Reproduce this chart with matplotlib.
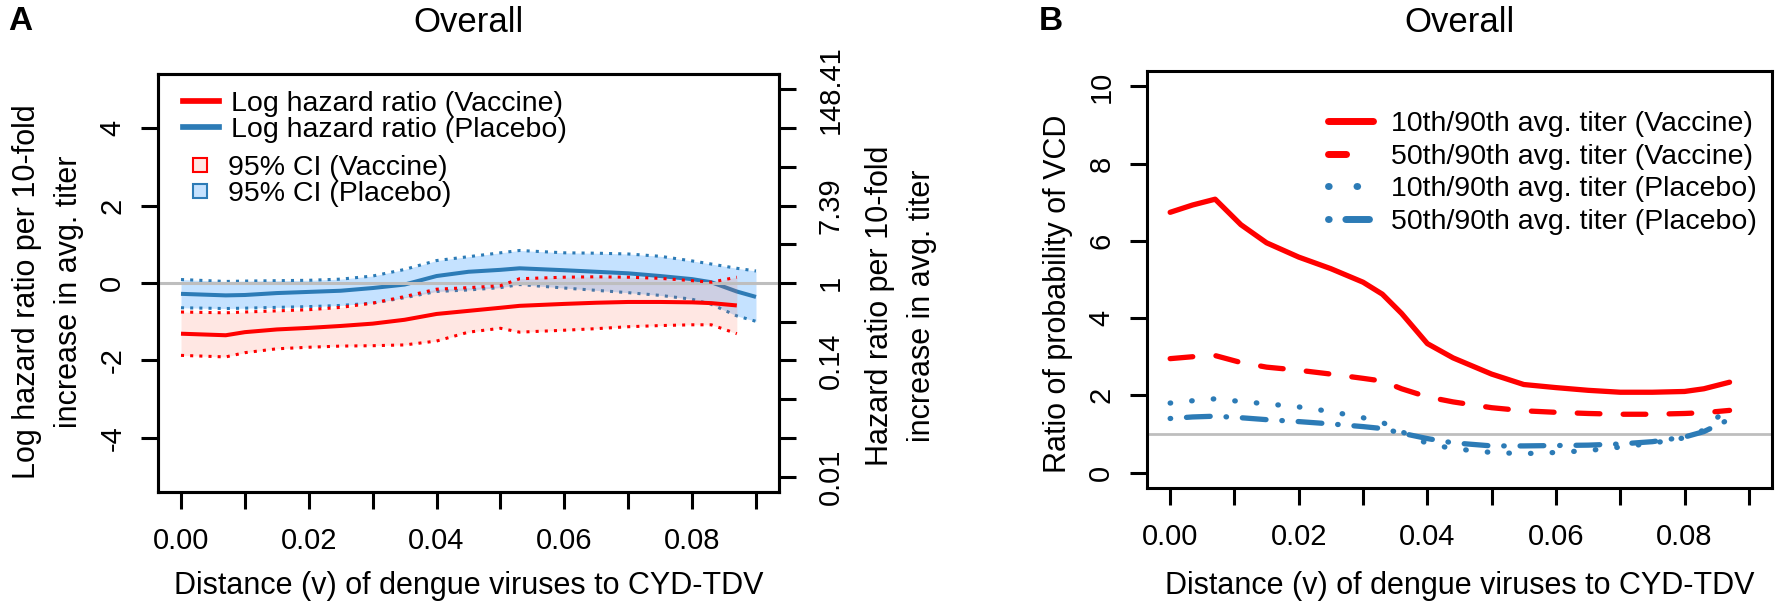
import matplotlib
matplotlib.use("Agg")
import matplotlib.pyplot as plt
from matplotlib.lines import Line2D

plt.rcParams['font.family'] = ['Liberation Sans', 'DejaVu Sans']

# ---------------- data: panel A ----------------
xa_plac = [0.000, 0.007, 0.010, 0.015, 0.020, 0.025, 0.030, 0.035, 0.040, 0.045,
           0.050, 0.053, 0.060, 0.065, 0.070, 0.075, 0.080, 0.083, 0.087, 0.090]
plac_lhr = [-0.28, -0.32, -0.31, -0.26, -0.23, -0.20, -0.13, -0.04, 0.18, 0.29,
            0.34, 0.38, 0.33, 0.29, 0.25, 0.18, 0.10, 0.02, -0.22, -0.36]
plac_hi = [0.09, 0.04, 0.05, 0.06, 0.07, 0.10, 0.18, 0.35, 0.58, 0.68,
           0.78, 0.84, 0.78, 0.77, 0.75, 0.69, 0.57, 0.49, 0.38, 0.31]
plac_lo = [-0.64, -0.66, -0.65, -0.63, -0.61, -0.58, -0.52, -0.38, -0.22, -0.18,
           -0.12, -0.04, -0.13, -0.19, -0.25, -0.32, -0.42, -0.55, -0.85, -0.99]

xa_vacc = [0.000, 0.007, 0.010, 0.015, 0.020, 0.025, 0.030, 0.035, 0.040, 0.045,
           0.050, 0.053, 0.060, 0.065, 0.070, 0.075, 0.080, 0.083, 0.087]
vacc_lhr = [-1.31, -1.35, -1.27, -1.20, -1.16, -1.11, -1.05, -0.95, -0.80, -0.72,
            -0.64, -0.59, -0.54, -0.51, -0.49, -0.49, -0.50, -0.52, -0.58]
vacc_hi = [-0.75, -0.77, -0.75, -0.72, -0.69, -0.63, -0.52, -0.35, -0.16, -0.12,
           -0.07, 0.11, 0.15, 0.16, 0.15, 0.12, 0.06, 0.02, 0.15]
vacc_lo = [-1.87, -1.91, -1.80, -1.70, -1.66, -1.63, -1.62, -1.60, -1.50, -1.27,
           -1.17, -1.27, -1.22, -1.18, -1.13, -1.10, -1.08, -1.08, -1.31]

xticks = [0.00, 0.01, 0.02, 0.03, 0.04, 0.05, 0.06, 0.07, 0.08, 0.09]
xticklabels = ['0.00', '', '0.02', '', '0.04', '', '0.06', '', '0.08', '']
ya_ticks = [-4, -2, 0, 2, 4]
ya_ticklabels = ['-4', '-2', '0', '2', '4']
hr_ticks = [-5, -4, -3, -2, -1, 0, 1, 2, 3, 4, 5]
hr_ticklabels = ['0.01', '', '', '0.14', '', '1', '', '7.39', '', '', '148.41']

# ---------------- data: panel B ----------------
xb = [0.000, 0.0035, 0.007, 0.011, 0.015, 0.020, 0.025, 0.030, 0.033, 0.036, 0.040,
      0.044, 0.050, 0.055, 0.060, 0.065, 0.070, 0.075, 0.080, 0.083, 0.087]
r10_vacc = [6.74, 6.93, 7.08, 6.42, 5.95, 5.58, 5.28, 4.93, 4.62, 4.12, 3.34,
            2.97, 2.55, 2.28, 2.20, 2.13, 2.08, 2.08, 2.10, 2.17, 2.34]
r50_vacc = [2.95, 3.00, 3.03, 2.85, 2.73, 2.65, 2.55, 2.44, 2.37, 2.17, 1.96,
            1.83, 1.68, 1.60, 1.56, 1.53, 1.51, 1.51, 1.53, 1.55, 1.61]
r10_plac = [1.80, 1.86, 1.91, 1.84, 1.78, 1.70, 1.58, 1.42, 1.30, 1.06, 0.75,
            0.62, 0.52, 0.49, 0.52, 0.57, 0.66, 0.76, 0.90, 1.10, 1.72]
r50_plac = [1.40, 1.44, 1.46, 1.42, 1.37, 1.32, 1.26, 1.19, 1.14, 1.02, 0.88,
            0.77, 0.69, 0.69, 0.70, 0.71, 0.74, 0.80, 0.92, 1.06, 1.38]
yb_ticks = [0, 2, 4, 6, 8, 10]
yb_ticklabels = ['0', '2', '4', '6', '8', '10']

# ---------------- style ----------------
RED = '#FF0000'
BLUE = '#2C7BB6'
GRAY = '#BEBEBE'
RED_FILL = (1.0, 0.39, 0.28, 0.15)
BLUE_FILL = (0.12, 0.56, 1.0, 0.26)
FS_TICK = 21
FS_LAB = 22
FS_LEG = 20.5
FS_TITLE = 25
W, H = 1779, 605

fig = plt.figure(figsize=(W / 100, H / 100), dpi=100)


def box(l, t, r, b):
    return [l / W, 1 - b / H, (r - l) / W, (b - t) / H]


axA = fig.add_axes(box(158, 74, 779, 492))
axB = fig.add_axes(box(1147, 71, 1772, 488))


def style_axis(ax, ypad):
    for s in ax.spines.values():
        s.set_linewidth(2.2)
    ax.tick_params(axis='both', direction='out', length=12, width=2.2, labelsize=FS_TICK)
    ax.tick_params(axis='x', pad=13.0)
    ax.tick_params(axis='y', pad=ypad)


# ---------------- Panel A ----------------
dot = (0, (1, 2))
axA.fill_between(xa_plac, plac_lo, plac_hi, color=BLUE_FILL, lw=0, zorder=1)
axA.plot(xa_plac, plac_hi, color=BLUE, lw=2.2, ls=dot, zorder=2)
axA.plot(xa_plac, plac_lo, color=BLUE, lw=2.2, ls=dot, zorder=2)
axA.plot(xa_plac, plac_lhr, color=BLUE, lw=2.9, zorder=2.5, solid_joinstyle='round',
         solid_capstyle='butt')
axA.fill_between(xa_vacc, vacc_lo, vacc_hi, color=RED_FILL, lw=0, zorder=3)
axA.axhline(0, color=GRAY, lw=2.2, zorder=3.5)
axA.plot(xa_vacc, vacc_hi, color=RED, lw=2.2, ls=dot, zorder=4)
axA.plot(xa_vacc, vacc_lo, color=RED, lw=2.2, ls=dot, zorder=4)
axA.plot(xa_vacc, vacc_lhr, color=RED, lw=2.9, zorder=4.5, solid_joinstyle='round',
         solid_capstyle='butt')

axA.set_xlim(-0.0036, 0.0936)
axA.set_ylim(-5.4, 5.4)
axA.set_xticks(xticks)
axA.set_xticklabels(xticklabels)
axA.set_yticks(ya_ticks)
axA.set_yticklabels(ya_ticklabels, rotation=90, va='center')
style_axis(axA, 10.8)

axA.set_title('Overall', fontsize=FS_TITLE, y=1 + (74 - 22.5) / 418, va='center', pad=0)
axA.set_xlabel('Distance (v) of dengue viruses to CYD-TDV', fontsize=FS_LAB)
axA.xaxis.set_label_coords(0.5, -(586 - 492) / 418)
axA.xaxis.label.set_va('center')
axA.set_ylabel('Log hazard ratio per 10-fold\nincrease in avg. titer', fontsize=FS_LAB,
               linespacing=1.5)
axA.yaxis.set_label_coords((48 - 158) / 621, 1 - (291.5 - 74) / 418)
axA.yaxis.label.set_va('center')

axA2 = axA.twinx()
axA2.set_ylim(-5.4, 5.4)
axA2.set_yticks(hr_ticks)
axA2.set_yticklabels(hr_ticklabels, rotation=90, va='center')
style_axis(axA2, 15)
axA2.set_ylabel('Hazard ratio per 10-fold\nincrease in avg. titer', fontsize=FS_LAB,
                linespacing=1.5, rotation=90)
axA2.yaxis.set_label_coords((901 - 158) / 621, 1 - (306 - 74) / 418)
axA2.yaxis.label.set_va('center')

leg_h1 = [Line2D([], [], color=RED, lw=4.1), Line2D([], [], color=BLUE, lw=4.1)]
leg1 = axA.legend(leg_h1, ['Log hazard ratio (Vaccine)', 'Log hazard ratio (Placebo)'],
                  loc='upper left', bbox_to_anchor=((182.6 - 158) / 621, 1 - (91.2 - 74) / 418),
                  borderaxespad=0, borderpad=0, frameon=False, handlelength=1.29,
                  handletextpad=0.41, labelspacing=0, fontsize=FS_LEG)
axA.add_artist(leg1)
leg_h2 = [Line2D([], [], ls='none', marker='s', ms=9.4, mfc=RED_FILL, mec=RED, mew=1.5),
          Line2D([], [], ls='none', marker='s', ms=9.4, mfc=BLUE_FILL, mec=BLUE, mew=1.5)]
axA.legend(leg_h2, ['95% CI (Vaccine)', '95% CI (Placebo)'],
           loc='upper left', bbox_to_anchor=((186 - 158) / 621, 1 - (155 - 74) / 418),
           borderaxespad=0, borderpad=0, frameon=False, handlelength=0.98,
           handletextpad=0.51, labelspacing=0, fontsize=FS_LEG)

# ---------------- Panel B ----------------
LWB = 3.8
axB.axhline(1, color=GRAY, lw=2.0, zorder=1)
axB.plot(xb, r10_vacc, color=RED, lw=LWB, solid_joinstyle='round', solid_capstyle='round', zorder=3)
axB.plot(xb, r50_vacc, color=RED, lw=LWB, ls=(0, (4.3, 4.4)), dash_capstyle='round',
         dash_joinstyle='round', zorder=3)
axB.plot(xb, r10_plac, color=BLUE, lw=LWB, ls=(0, (0.1, 4.0)), dash_capstyle='round', zorder=2)
axB.plot(xb, r50_plac, color=BLUE, lw=LWB, ls=(0, (0.1, 3.0, 4.5, 3.0)), dash_capstyle='round',
         zorder=2)

axB.set_xlim(-0.0036, 0.0936)
axB.set_ylim(-0.4, 10.4)
axB.set_xticks(xticks)
axB.set_xticklabels(xticklabels)
axB.set_yticks(yb_ticks)
axB.set_yticklabels(yb_ticklabels, rotation=90, va='center')
style_axis(axB, 10.8)
axB.set_title('Overall', fontsize=FS_TITLE, y=1 + (71 - 22.5) / 417, va='center', pad=0)
axB.set_xlabel('Distance (v) of dengue viruses to CYD-TDV', fontsize=FS_LAB)
axB.xaxis.set_label_coords(0.5, -(586 - 488) / 417)
axB.xaxis.label.set_va('center')
axB.set_ylabel('Ratio of probability of VCD', fontsize=FS_LAB)
axB.yaxis.set_label_coords((1058 - 1147) / 625, 1 - (294 - 71) / 417)
axB.yaxis.label.set_va('center')

LWL = 5.0
leg_hb = [Line2D([], [], color=RED, lw=LWL, solid_capstyle='round'),
          Line2D([], [], color=RED, lw=LWL, ls=(0, (2.6, 4.0)), dash_capstyle='round'),
          Line2D([], [], color=BLUE, lw=LWL, ls=(0, (0.1, 4.0)), dash_capstyle='round'),
          Line2D([], [], color=BLUE, lw=LWL, ls=(0, (0.1, 2.4, 3.4, 3.0)), dash_capstyle='round')]
axB.legend(leg_hb, ['10th/90th avg. titer (Vaccine)', '50th/90th avg. titer (Vaccine)',
                    '10th/90th avg. titer (Placebo)', '50th/90th avg. titer (Placebo)'],
           loc='upper left', bbox_to_anchor=((1328 - 1147) / 625, 1 - (111 - 71) / 417),
           borderaxespad=0, borderpad=0, frameon=False, handlelength=1.58,
           handletextpad=0.65, labelspacing=0.235, fontsize=FS_LEG)

fig.text(20 / W, 1 - 21 / H, 'A', fontsize=24, fontweight='bold', ha='center', va='center')
fig.text(1051 / W, 1 - 21 / H, 'B', fontsize=24, fontweight='bold', ha='center', va='center')

fig.savefig('out.png', dpi=100)
